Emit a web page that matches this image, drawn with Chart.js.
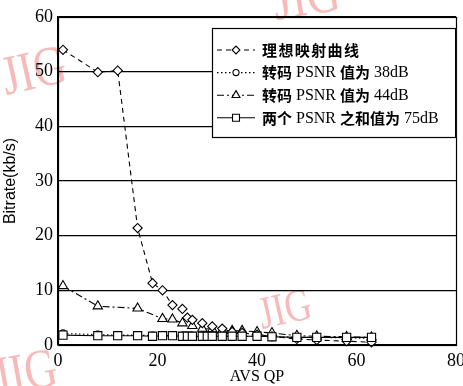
<!DOCTYPE html>
<html><head><meta charset="utf-8">
<script src="https://cdn.jsdelivr.net/npm/chart.js@4.4.1/dist/chart.umd.min.js"></script>
<style>html,body{margin:0;padding:0;background:#fff;overflow:hidden}</style>
</head><body>
<canvas id="c" width="463" height="386" style="display:block;width:463px;height:386px"></canvas>
<script>
// ---- data ----
const seriesNames = ['理想映射曲线', '转码 PSNR 值为 38dB', '转码 PSNR 值为 44dB', '两个 PSNR 之和值为 75dB'];
const xTicks = [0, 20, 40, 60, 80];
const yTicks = [0, 10, 20, 30, 40, 50, 60];

const qpIdeal = [1, 8, 12, 16, 19, 21, 23, 25, 26, 27, 29, 31, 33, 35, 37, 40, 43, 48, 52, 58, 63];
const ideal   = [54, 49.9, 50.2, 21.4, 11.3, 10.0, 7.3, 6.6, 5.0, 4.6, 4.0, 3.4, 3.0, 2.4, 2.2, 1.9, 1.6, 1.1, 0.9, 0.7, 0.5];

const qp38   = [1, 8, 12, 16, 19, 21, 23, 25, 26, 27, 29, 30, 31, 33, 35, 37, 40, 43, 48, 52, 58, 63];
const psnr38 = [2.1, 1.9, 1.8, 1.8, 1.7, 1.7, 1.7, 1.7, 1.7, 1.7, 1.7, 1.6, 1.6, 1.6, 1.6, 1.6, 1.6, 1.5, 1.4, 1.4, 1.3, 1.2];

const qp44   = [1, 8, 16, 21, 23, 25, 27, 29, 31, 33, 35, 37, 40, 43, 48, 52, 58, 63];
const psnr44 = [10.8, 7.1, 6.7, 4.8, 4.7, 4.0, 3.5, 3.0, 2.9, 2.7, 2.6, 2.6, 2.4, 2.2, 1.7, 1.6, 1.5, 1.4];

const qp75  = [1, 8, 12, 16, 19, 21, 23, 25, 26, 27, 29, 30, 31, 33, 35, 37, 40, 43, 48, 52, 58, 63];
const sum75 = [1.8, 1.7, 1.7, 1.7, 1.6, 1.7, 1.7, 1.6, 1.6, 1.6, 1.6, 1.6, 1.6, 1.6, 1.6, 1.6, 1.6, 1.5, 1.4, 1.4, 1.4, 1.4];

const xTitle = 'AVS QP';
const yTitle = 'Bitrate(kb/s)';
const watermark = 'JIG';

// ---- helpers ----
const pts = (xs, ys) => xs.map((x, i) => ({x: x, y: ys[i]}));
const styles = [
  {pointStyle: 'rectRot', radius: 4.6, dash: [5, 4], order: 1},
  {pointStyle: 'circle', radius: 3.6, dash: [1.5, 2.5], order: 3},
  {pointStyle: 'triangle', radius: 5.4, dash: [7, 3, 2, 3], order: 2},
  {pointStyle: 'rect', radius: 5.8, dash: [], order: 0}
];
const dataArrays = [[qpIdeal, ideal], [qp38, psnr38], [qp44, psnr44], [qp75, sum75]];

function drawMarker(ctx, style, r, x, y) {
  ctx.beginPath();
  if (style === 'circle') {
    ctx.arc(x, y, r, 0, Math.PI * 2);
  } else if (style === 'rectRot') {
    ctx.moveTo(x - r, y); ctx.lineTo(x, y - r); ctx.lineTo(x + r, y); ctx.lineTo(x, y + r); ctx.closePath();
  } else if (style === 'triangle') {
    for (let k = 0; k < 3; k++) {
      const a = k * 2 * Math.PI / 3;
      const px = x + Math.sin(a) * r, py = y - Math.cos(a) * r;
      if (k === 0) ctx.moveTo(px, py); else ctx.lineTo(px, py);
    }
    ctx.closePath();
  } else {
    const s = r * Math.SQRT1_2;
    ctx.rect(x - s, y - s, 2 * s, 2 * s);
  }
  ctx.fill(); ctx.stroke();
}

const bgPlugin = {
  id: 'bg',
  beforeDraw(chart) {
    const ctx = chart.ctx;
    ctx.save();
    ctx.fillStyle = '#fff';
    ctx.fillRect(0, 0, chart.width, chart.height);
    // faint journal watermarks
    const marks = [
      {x: 6, y: 95, a: -0.22, s: 56},
      {x: 276, y: 20, a: -0.16, s: 58},
      {x: -4, y: 396, a: -0.18, s: 56},
      {x: 262, y: 329, a: -0.22, s: 46}
    ];
    ctx.fillStyle = 'rgba(236,70,70,0.38)';
    marks.forEach(m => {
      ctx.save();
      ctx.translate(m.x, m.y);
      ctx.rotate(m.a);
      ctx.scale(0.8, 1);
      ctx.font = m.s + 'px "Liberation Serif", serif';
      ctx.textBaseline = 'alphabetic';
      ctx.fillText(watermark, 0, 0);
      ctx.restore();
    });
    ctx.restore();
  }
};

const framePlugin = {
  id: 'frame',
  afterDatasetsDraw(chart) {
    const ctx = chart.ctx, ca = chart.chartArea;
    ctx.save();
    ctx.strokeStyle = '#000';
    ctx.lineWidth = 1.2;
    ctx.strokeRect(Math.round(ca.left) + 0.5, Math.round(ca.top) + 0.5, Math.round(ca.right - ca.left), Math.round(ca.bottom - ca.top));
    ctx.restore();
  },
  afterDraw(chart) {
    const ctx = chart.ctx, ca = chart.chartArea;
    // legend box inside plot area (top right)
    const bx = ca.left + 154, by = ca.top + 11;
    const bw = ca.right - bx, bh = 110;
    ctx.save();
    ctx.fillStyle = '#fff';
    ctx.fillRect(bx, by, bw, bh);
    ctx.strokeStyle = '#000';
    ctx.lineWidth = 1.2;
    ctx.strokeRect(bx + 0.5, by + 0.5, bw - 1, bh - 1);
    chart.data.datasets.forEach((ds, i) => {
      const st = styles[i];
      const y = by + 22 + i * 22.6;
      ctx.save();
      ctx.strokeStyle = '#000';
      ctx.lineWidth = 1.1;
      ctx.setLineDash(st.dash);
      ctx.beginPath();
      ctx.moveTo(bx + 5, y); ctx.lineTo(bx + 43, y);
      ctx.stroke();
      ctx.setLineDash([]);
      ctx.fillStyle = '#fff';
      ctx.lineWidth = 1.1;
      drawMarker(ctx, st.pointStyle, st.radius * 0.85, bx + 24, y);
      ctx.restore();
      // text in runs: CJK bold sans, Latin serif
      let tx = bx + 50;
      const runs = ds.label.match(/[\u3400-\u9fff]+|[^\u3400-\u9fff]+/g) || [];
      ctx.fillStyle = '#000';
      ctx.textBaseline = 'middle';
      ctx.textAlign = 'left';
      runs.forEach(run => {
        const cjk = /[\u3400-\u9fff]/.test(run);
        ctx.font = cjk ? 'bold 15px "Noto Sans CJK SC", sans-serif' : '16px "Liberation Serif", serif';
        const extra = (cjk && i === 0) ? 1.4 : 0;
        for (const ch of run) {
          ctx.fillText(ch, tx, y + (cjk ? 0 : 0.5));
          tx += ctx.measureText(ch).width + extra;
        }
      });
    });
    ctx.restore();
  }
};

const datasets = dataArrays.map((d, i) => ({
  label: seriesNames[i],
  data: pts(d[0], d[1]),
  showLine: true,
  borderColor: '#000',
  borderWidth: 1.1,
  borderDash: styles[i].dash,
  pointStyle: styles[i].pointStyle,
  pointRadius: styles[i].radius,
  pointBackgroundColor: '#fff',
  pointBorderColor: '#000',
  pointBorderWidth: 1.1,
  tension: 0,
  order: styles[i].order,
  clip: false
}));

new Chart(document.getElementById('c'), {
  type: 'scatter',
  data: {datasets: datasets},
  options: {
    responsive: false,
    animation: false,
    devicePixelRatio: 1,
    layout: {padding: {left: 0, right: 6, top: 17, bottom: 0}},
    plugins: {legend: {display: false}, tooltip: {enabled: false}},
    scales: {
      x: {
        type: 'linear', min: 0, max: 80,
        afterBuildTicks(s) { s.ticks = xTicks.map(v => ({value: v})); },
        afterFit(s) { s.height = 41; s.paddingLeft = 0; s.paddingRight = 0; },
        grid: {display: false, drawTicks: false},
        border: {display: true, color: '#000', width: 1.2},
        ticks: {color: '#000', padding: 5, maxRotation: 0, autoSkip: false,
                font: {family: '"Liberation Serif", serif', size: 18}},
        title: {display: true, text: xTitle, color: '#000', padding: {top: 0, bottom: 0},
                font: {family: '"Liberation Serif", serif', size: 16}}
      },
      y: {
        type: 'linear', min: 0, max: 60,
        afterBuildTicks(s) { s.ticks = yTicks.map(v => ({value: v})); },
        afterFit(s) { s.width = 58; s.paddingTop = 0; s.paddingBottom = 0; },
        grid: {display: true, color: '#000', lineWidth: 1.2, drawTicks: false},
        border: {display: true, color: '#000', width: 1.2},
        ticks: {color: '#000', padding: 5, font: {family: '"Liberation Serif", serif', size: 18}},
        title: {display: true, text: yTitle, color: '#000', padding: {top: 1, bottom: 0},
                font: {family: '"Liberation Sans", Arial, sans-serif', size: 16}}
      }
    }
  },
  plugins: [bgPlugin, framePlugin]
});
</script>
</body></html>
